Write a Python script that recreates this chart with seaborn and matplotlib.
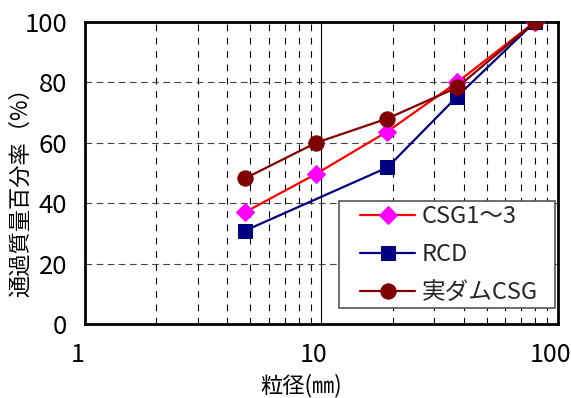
import matplotlib
matplotlib.use("Agg")
import matplotlib.pyplot as plt
import matplotlib.transforms as mtransforms
from matplotlib.patches import Rectangle
import seaborn as sns
import pandas as pd
from matplotlib.ticker import LogLocator, FixedLocator, NullFormatter

# Sieve sizes (mm) and percent passing for each gradation
csg_size = [4.75, 9.5, 19, 37.5, 80]
csg_pass = [37, 49.7, 63.7, 80, 100]
rcd_size = [4.75, 19, 37.5, 80]
rcd_pass = [30.9, 51.8, 75.3, 100]
dam_size = [4.75, 9.5, 19, 37.5, 80]
dam_pass = [48.2, 60, 68, 78.3, 100]

labels = ["CSG1～3", "RCD", "実ダムCSG"]
x_ticks = [1, 10, 100]
y_ticks = [0, 20, 40, 60, 80, 100]

sns.set_theme(style="white")
plt.rcParams["font.family"] = ["Noto Sans CJK JP", "DejaVu Sans"]
narrow = ["Liberation Sans Narrow", "Noto Sans CJK JP", "DejaVu Sans"]

fig = plt.figure(figsize=(5.71, 3.98), dpi=100)
ax = fig.add_axes([0.149, 0.186, 0.828, 0.759])

series = [
    (csg_size, csg_pass, labels[0], "#FF0000", "D", "#FF00FF", 9),
    (rcd_size, rcd_pass, labels[1], "#000080", "s", "#000080", 10),
    (dam_size, dam_pass, labels[2], "#800000", "o", "#800000", 11),
]
for xs, ys, lab, lc, mk, mc, ms in series:
    df = pd.DataFrame({"size": xs, "pass": ys})
    sns.lineplot(data=df, x="size", y="pass", ax=ax, color=lc, linewidth=1.6,
                 marker=mk, markersize=ms, markerfacecolor=mc,
                 markeredgecolor=mc, label=lab, zorder=3)

ax.set_xscale("log")
ax.set_xlim(1, 100)
ax.set_ylim(0, 100)
ax.xaxis.set_major_locator(FixedLocator(x_ticks))
ax.set_xticklabels([str(v) for v in x_ticks], family=narrow, fontsize=18)
ax.xaxis.set_minor_locator(LogLocator(base=10, subs=range(2, 10)))
ax.xaxis.set_minor_formatter(NullFormatter())
ax.yaxis.set_major_locator(FixedLocator(y_ticks))
ax.set_yticklabels([str(v) for v in y_ticks], family=narrow, fontsize=18.5)

ax.grid(True, which="major", axis="x", color="black", linewidth=0.8, linestyle="-")
ax.grid(True, which="minor", axis="x", color="black", linewidth=0.8,
        linestyle=(0, (6, 6)))
ax.grid(True, which="major", axis="y", color="#444444", linewidth=0.8,
        linestyle=(0, (6, 4)))
ax.set_axisbelow(True)

for sp in ax.spines.values():
    sp.set_color("black")
    sp.set_linewidth(2)

ax.tick_params(axis="both", which="both", length=0, colors="black")
ax.tick_params(axis="x", pad=13)
ax.tick_params(axis="y", pad=13)

# nudge the x tick labels slightly to the left
shift = mtransforms.ScaledTranslation(-0.075, 0, fig.dpi_scale_trans)
for t in ax.get_xticklabels():
    t.set_transform(t.get_transform() + shift)

ax.set_xlabel("粒径(㎜)", fontsize=16, color="black")
ax.xaxis.set_label_coords(0.457, -0.165)
ax.set_ylabel("通過質量百分率（%）", fontsize=16, color="black")
ax.yaxis.set_label_coords(-0.112, 0.455)

# legend frame drawn as its own box, entries placed inside it
frame = Rectangle((0.537, 0.053), 0.457, 0.354, transform=ax.transAxes,
                  facecolor="white", edgecolor="#555555", linewidth=1.2,
                  zorder=4.5)
ax.add_patch(frame)
leg = ax.legend(loc="center", bbox_to_anchor=(0.770, 0.230),
                borderaxespad=0, prop={"family": narrow, "size": 17},
                frameon=False, handlelength=2.3, handletextpad=0.3,
                labelspacing=0.63, borderpad=0)
leg.set_zorder(5)

fig.savefig("out.png", dpi=100, facecolor="white")
